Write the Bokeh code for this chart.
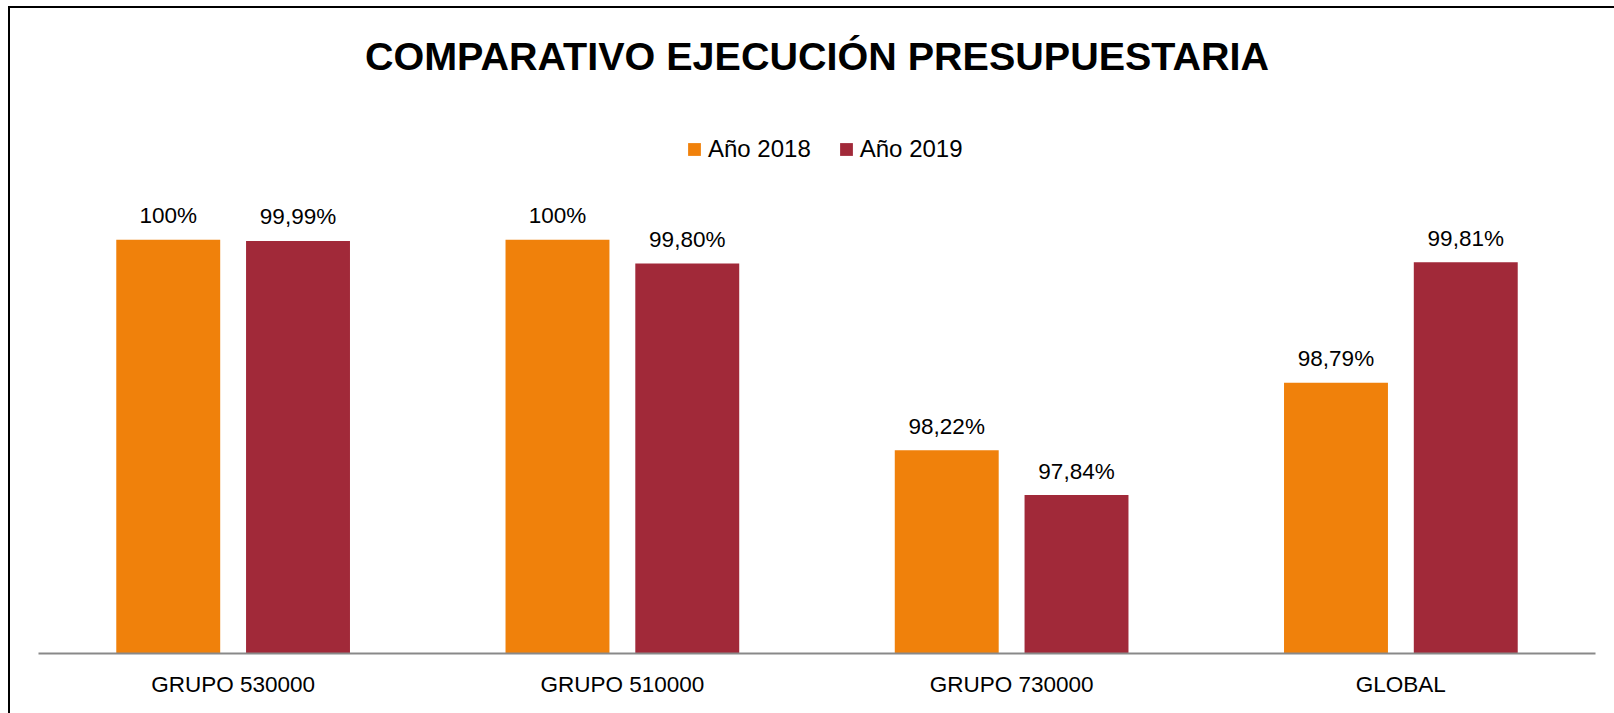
from bokeh.plotting import figure
from bokeh.models import ColumnDataSource, FactorRange, Label, Legend, LegendItem, InlineStyleSheet
from bokeh.transform import dodge
from bokeh.embed import file_html
from bokeh.resources import INLINE

categories = ["GRUPO 530000", "GRUPO 510000", "GRUPO 730000", "GLOBAL"]
series_names = ["Año 2018", "Año 2019"]
values_2018 = [100.0, 100.0, 98.22, 98.79]
values_2019 = [99.99, 99.80, 97.84, 99.81]
labels_2018 = ["100%", "100%", "98,22%", "98,79%"]
labels_2019 = ["99,99%", "99,80%", "97,84%", "99,81%"]
title_text = "COMPARATIVO EJECUCIÓN PRESUPUESTARIA"

FONT = "Liberation Sans Narrow, Arial Narrow, Liberation Sans, sans-serif"
C18 = "#F0810B"
C19 = "#A12939"

src = ColumnDataSource(dict(cat=categories, v18=values_2018, v19=values_2019,
                            l18=labels_2018, l19=labels_2019))

p = figure(width=1614, height=713, x_range=FactorRange(*categories),
           y_range=(96.5, 96.5 + 653 / 118.2),
           output_backend="svg", toolbar_location=None,
           min_border_left=38, min_border_right=19, min_border_top=0, min_border_bottom=60)
p.background_fill_color = "white"
p.border_fill_color = "white"
p.outline_line_color = None
p.grid.visible = False
p.yaxis.visible = False

bw = 0.267
off = 0.1667
r18 = p.vbar(x=dodge("cat", -off, range=p.x_range), top="v18", bottom=96.5, width=bw,
             source=src, fill_color=C18, line_color=None)
r19 = p.vbar(x=dodge("cat", off, range=p.x_range), top="v19", bottom=96.5, width=bw,
             source=src, fill_color=C19, line_color=None)

for col, lab, dx in (("v18", "l18", -off), ("v19", "l19", off)):
    p.text(x=dodge("cat", dx, range=p.x_range), y=col, text=lab, source=src,
           text_align="center", text_baseline="alphabetic", y_offset=-24,
           text_font={"value": FONT}, text_font_size="22.5px", text_color="#000000")

xa = p.xaxis[0]
xa.axis_line_color = "#898989"
xa.axis_line_width = 2
xa.major_tick_line_color = None
xa.minor_tick_line_color = None
xa.major_label_standoff = 12
xa.major_label_text_font = FONT
xa.major_label_text_font_size = "22.5px"
xa.major_label_text_color = "#000000"

p.add_layout(Label(x=2.0, y=653 - 55, y_units="screen", text=title_text,
                   text_align="center", text_baseline="middle",
                   text_font=FONT, text_font_size="39.5px", text_font_style="bold",
                   text_color="#000000"))

legend = Legend(items=[LegendItem(label=series_names[0], renderers=[r18]),
                       LegendItem(label=series_names[1], renderers=[r19])],
                orientation="horizontal", location=(648, 653 - 163),
                padding=0, margin=0, spacing=27, label_standoff=6,
                glyph_width=16, glyph_height=16,
                label_text_font=FONT, label_text_font_size="24px",
                label_text_color="#000000",
                border_line_color=None, background_fill_alpha=0)
p.add_layout(legend)

p.stylesheets.append(InlineStyleSheet(css=(
    ":host::after{content:'';position:absolute;left:8px;top:6px;right:0;bottom:0;"
    "border-top:2px solid #000;border-left:2px solid #000;pointer-events:none;z-index:5;}")))

open("out.html", "w").write(file_html(p, INLINE))
